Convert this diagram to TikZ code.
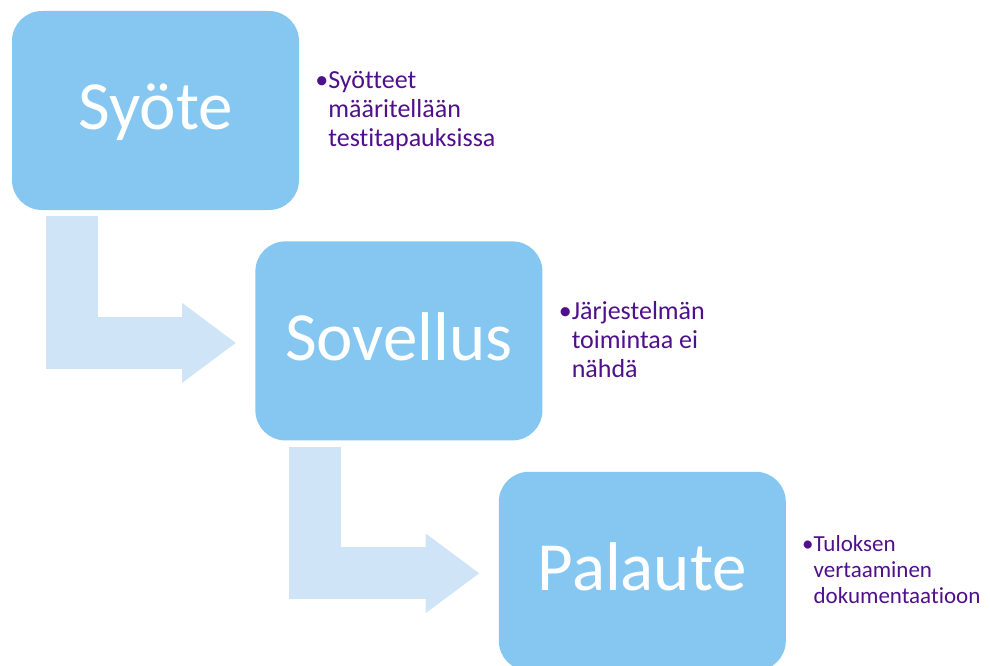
\documentclass[tikz,border=0pt]{standalone}
\usepackage{fontspec}
\setmainfont{Carlito}[Ligatures=NoCommon]
\usetikzlibrary{positioning, arrows.meta}
\definecolor{boxblue}{RGB}{133,199,240}
\definecolor{flowblue}{RGB}{207,229,247}
\definecolor{notepurple}{RGB}{80,16,140}
\tikzset{
    stage/.style={fill=boxblue, rounded corners=30pt, minimum width=287pt,
        minimum height=199pt, inner sep=0pt, text=white,
        font=\fontsize{69}{72}\selectfont, text height=45pt, text depth=6pt}, % big boxes
    flow/.style={draw=flowblue, line width=52pt, -{Triangle[width=76pt, length=54pt]}}, % bent arrows
    note/.style={anchor=base west, inner sep=0pt, text=notepurple,
        font=\fontsize{26}{29}\selectfont}, % bullet texts
}

\begin{document}
\begin{tikzpicture}
    \useasboundingbox (0,0) rectangle (990pt,-666pt);

    \node[stage] (syote) at (155.5pt,-110.5pt) {Syöte};
    \node[stage, below right=31pt and -44pt of syote] (sovellus) {Sovellus};
    \node[stage, below right=31pt and -44pt of sovellus] (palaute) {Palaute};

    \draw[flow] ([xshift=-83.5pt, yshift=-6pt]syote.south) |- ([xshift=-19pt, yshift=-2pt]sovellus.west);
    \draw[flow] ([xshift=-83.5pt, yshift=-6pt]sovellus.south) |- ([xshift=-19pt, yshift=-2pt]palaute.west);

    \node[note] (syoteinfo) at ([xshift=16pt, yshift=-78pt]syote.north east)
        {\begin{tabular}[t]{@{}l@{}}•Syötteet\\\phantom{•}määritellään\\\phantom{•}testitapauksissa\end{tabular}};
    \node[note] (sovellusinfo) at ([xshift=16pt, yshift=-78pt]sovellus.north east)
        {\begin{tabular}[t]{@{}l@{}}•Järjestelmän\\\phantom{•}toimintaa ei\\\phantom{•}nähdä\end{tabular}};
    \node[note, font=\fontsize{23}{26}\selectfont] (palauteinfo) at ([xshift=16pt, yshift=-80pt]palaute.north east)
        {\begin{tabular}[t]{@{}l@{}}•Tuloksen\\\phantom{•}vertaaminen\\\phantom{•}dokumentaatioon\end{tabular}};
\end{tikzpicture}
\end{document}
